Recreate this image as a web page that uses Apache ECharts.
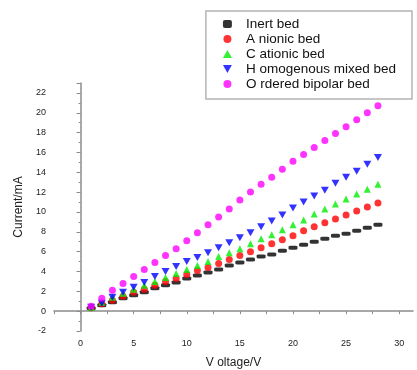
<!DOCTYPE html>
<html>
<head>
<meta charset="utf-8">
<style>
  html, body { margin: 0; padding: 0; background: #fff; }
  #main { width: 417px; height: 370px; }
</style>
<script src="https://cdn.jsdelivr.net/npm/echarts@6/dist/echarts.min.js"></script>
</head>
<body>
<div id="main"></div>
<script>
const voltage = [1, 2, 3, 4, 5, 6, 7, 8, 9, 10, 11, 12, 13, 14, 15, 16, 17, 18, 19, 20, 21, 22, 23, 24, 25, 26, 27, 28];

const inert = [0.3, 0.6, 0.9, 1.3, 1.6, 1.9, 2.3, 2.6, 2.9, 3.3, 3.6, 3.9, 4.2, 4.6, 4.9, 5.2, 5.5, 5.7, 6.1, 6.4, 6.7, 7.0, 7.3, 7.6, 7.8, 8.1, 8.4, 8.7];
const anionic = [0.35, 0.75, 1.1, 1.5, 1.9, 2.2, 2.6, 3.0, 3.3, 3.7, 4.1, 4.4, 4.8, 5.2, 5.6, 6.0, 6.4, 6.8, 7.2, 7.6, 8.1, 8.5, 8.9, 9.3, 9.7, 10.1, 10.5, 10.9];
const cationic = [0.4, 0.9, 1.4, 1.8, 2.2, 2.6, 3.0, 3.4, 3.8, 4.2, 4.6, 5.0, 5.5, 5.9, 6.3, 6.8, 7.3, 7.7, 8.2, 8.7, 9.2, 9.8, 10.3, 10.8, 11.3, 11.8, 12.3, 12.8];
const homogeneous = [0.4, 0.8, 1.4, 1.9, 2.4, 2.9, 3.5, 4.0, 4.5, 5.0, 5.4, 5.9, 6.4, 6.9, 7.4, 7.9, 8.5, 9.1, 9.7, 10.4, 11.0, 11.6, 12.2, 12.9, 13.5, 14.1, 14.8, 15.5];
const ordered = [0.5, 1.3, 2.1, 2.8, 3.5, 4.2, 4.9, 5.6, 6.3, 7.1, 7.9, 8.7, 9.5, 10.3, 11.2, 12.0, 12.8, 13.5, 14.3, 15.1, 15.8, 16.5, 17.2, 17.9, 18.6, 19.3, 20.0, 20.7];

const names = ["Inert bed", "A nionic bed", "C ationic bed", "H omogenous mixed bed", "O rdered bipolar bed"];

const chart = echarts.init(document.getElementById("main"));

const font = "Liberation Sans";
const axisColor = "#8c8c8c";

function pairs(values) {
  return voltage.map(function (v, i) {
    return [v, values[i]];
  });
}

const downTriangle = "path://M0,0 L10,0 L5,9 Z";

const option = {
  animation: false,
  textStyle: { fontFamily: font },
  grid: { left: 54, right: 4, top: 83, bottom: 39, outerBoundsMode: "none" },
  legend: {
    orient: "vertical",
    right: 5,
    top: 11,
    padding: [6, 16, 8, 17],
    itemWidth: 9,
    itemHeight: 8,
    itemGap: 1,
    textStyle: { fontFamily: font, fontSize: 13.5, lineHeight: 12, color: "#111", padding: [0, 0, 0, 9] },
    borderColor: "#b4b4b4",
    borderWidth: 1.5,
    data: names
  },
  xAxis: {
    type: "value",
    min: -2.5,
    max: 31.3,
    interval: 2.5,
    name: "V oltage/V",
    nameLocation: "middle",
    nameGap: 26,
    nameTextStyle: { fontSize: 12, color: "#222" },
    axisLine: { lineStyle: { color: axisColor, width: 1.5 } },
    axisTick: { length: 3, lineStyle: { color: axisColor } },
    axisLabel: {
      fontSize: 9,
      color: "#222",
      margin: 8,
      showMaxLabel: false,
      formatter: function (v) {
        return Math.abs(v % 5) < 1e-6 ? String(v) : "";
      }
    },
    splitLine: { show: false }
  },
  yAxis: {
    type: "value",
    min: -2,
    max: 23,
    interval: 2,
    name: "Current/mA",
    nameLocation: "middle",
    nameGap: 27,
    nameTextStyle: { fontSize: 12, color: "#222" },
    axisLine: { show: true, lineStyle: { color: axisColor, width: 1.5 } },
    axisTick: { show: true, length: 4, lineStyle: { color: axisColor } },
    minorTick: { show: true, splitNumber: 2, length: 2, lineStyle: { color: axisColor } },
    axisLabel: { fontSize: 9, color: "#222", margin: 8, showMaxLabel: false },
    splitLine: { show: false }
  },
  series: [
    { name: names[0], type: "scatter", data: pairs(inert), symbol: "roundRect", symbolSize: [9, 4], itemStyle: { color: "#000000" } },
    { name: names[1], type: "scatter", data: pairs(anionic), symbol: "circle", symbolSize: 7, itemStyle: { color: "#ff0000" } },
    { name: names[2], type: "scatter", data: pairs(cationic), symbol: "triangle", symbolSize: 7, itemStyle: { color: "#00ee00" } },
    { name: names[3], type: "scatter", data: pairs(homogeneous), symbol: downTriangle, symbolSize: [8, 7], itemStyle: { color: "#0000ff" } },
    { name: names[4], type: "scatter", data: pairs(ordered), symbol: "circle", symbolSize: 7, itemStyle: { color: "#ff00ff" } }
  ]
};

chart.setOption(option);
</script>
</body>
</html>
